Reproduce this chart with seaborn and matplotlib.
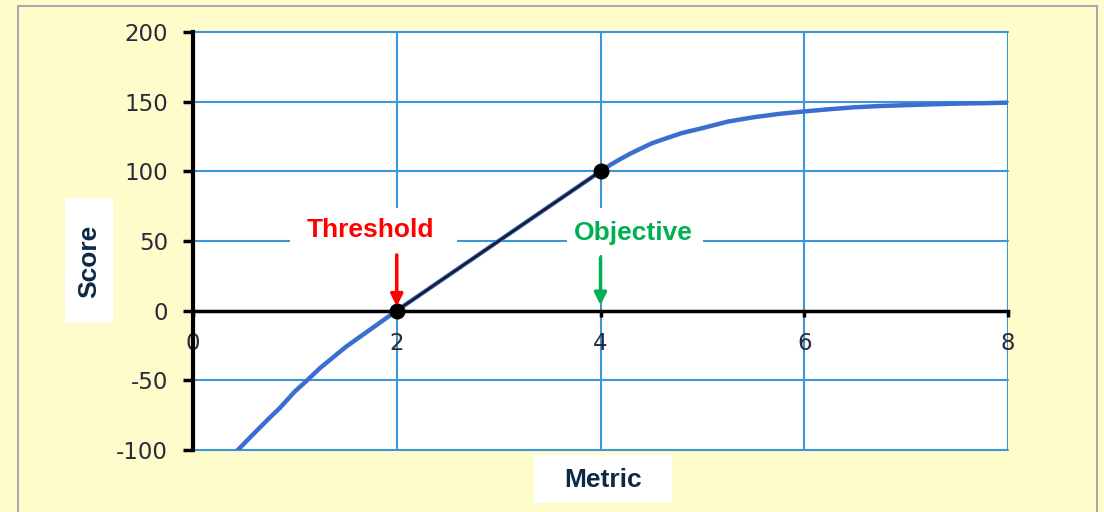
import matplotlib
matplotlib.use("Agg")
import matplotlib.pyplot as plt
from matplotlib.patches import Rectangle
import seaborn as sns
import pandas as pd

# curve
metric = [0.44, 0.6, 0.75, 0.85, 1.0, 1.12, 1.25, 1.5, 1.75, 2.0, 2.5, 3.0, 3.5, 4.0,
          4.1, 4.2, 4.3, 4.4, 4.5, 4.6, 4.8, 5.0, 5.25, 5.5, 5.75, 6.0,
          6.25, 6.5, 6.75, 7.0, 7.25, 7.5, 7.75, 8.0]
score = [-100, -88, -77, -70, -58, -50, -41, -26, -13, 0, 25, 50, 75, 100,
         104.8, 109, 113, 116.5, 120, 122.6, 127.5, 131, 135.7, 138.8, 141.2, 143,
         144.6, 146, 146.9, 147.5, 148.1, 148.6, 148.9, 149.3]

threshold = (2, 0)
objective = (4, 100)

x_ticks = [0, 2, 4, 6, 8]
y_ticks = [-100, -50, 0, 50, 100, 150, 200]

grid_blue = "#3a96d6"
curve_blue = "#3a6fd0"
navy = "#0c2a48"

sns.set_style("white")
plt.rcParams["font.family"] = ["DejaVu Sans"]
plt.rcParams["axes.unicode_minus"] = False

fig = plt.figure(figsize=(11.04, 5.12), dpi=100, facecolor="#fffccc")
# thin grey frame around the whole picture
fig.patches.append(Rectangle((18 / 1104, -0.1), (1097 - 18) / 1104, 1.1 - 6 / 512,
                             transform=fig.transFigure, fill=False,
                             edgecolor="#a8a8a8", linewidth=1.5))

ax = fig.add_axes([193 / 1104, 1 - 450 / 512, (1008 - 193) / 1104, (450 - 32) / 512])
ax.set_facecolor("white")

df = pd.DataFrame({"Metric": metric, "Score": score})
sns.lineplot(data=df, x="Metric", y="Score", ax=ax, color=curve_blue, linewidth=3.2, zorder=3)
# dark segment between threshold and objective
ax.plot([threshold[0], objective[0]], [threshold[1], objective[1]], color="#1a1a2a",
        linewidth=1.8, zorder=4)
ax.scatter([threshold[0], objective[0]], [threshold[1], objective[1]], s=110,
           color="black", zorder=5)

ax.set_xlim(0, 8)
ax.set_ylim(-100, 200)
ax.set_xticks(x_ticks)
ax.set_yticks(y_ticks)
ax.grid(True, color=grid_blue, linewidth=1.5)
for gl in ax.get_xgridlines() + ax.get_ygridlines():
    gl.set_clip_on(False)

ax.spines["bottom"].set_position(("data", 0))
ax.spines["bottom"].set_linewidth(2.5)
ax.spines["bottom"].set_color("black")
ax.spines["left"].set_linewidth(3)
ax.spines["left"].set_color("black")
ax.spines["top"].set_visible(False)
ax.spines["right"].set_visible(False)
ax.spines["left"].set_zorder(6)
ax.spines["bottom"].set_zorder(2.5)

ax.tick_params(axis="y", direction="out", length=7, width=2.5, color="black",
               pad=11, labelsize=16.5, labelcolor="#2a2a3a", left=True)
ax.tick_params(axis="x", direction="out", length=4, width=2.5, color="black",
               pad=11, labelsize=16.5, labelcolor="#2a2a3a", bottom=True)
ax.set_xlabel("")
ax.set_ylabel("")

# annotations with white boxes over the grid
ax.add_patch(Rectangle((0.95, 40), 1.64, 34, facecolor="white", edgecolor="none", zorder=2.6))
ax.add_patch(Rectangle((3.67, 40), 1.34, 34, facecolor="white", edgecolor="none", zorder=2.6))
ax.text(1.74, 58, "Threshold", color="#ff0000", fontsize=19, fontweight="bold",
        family="Liberation Sans", ha="center", va="center", zorder=7)
ax.text(4.32, 56, "Objective", color="#00b050", fontsize=19, fontweight="bold",
        family="Liberation Sans", ha="center", va="center", zorder=7)
ax.annotate("", xy=(threshold[0], 1), xytext=(threshold[0], 42),
            arrowprops=dict(arrowstyle="-|>", color="#ff0000", lw=2.5,
                            mutation_scale=18), zorder=7)
ax.annotate("", xy=(objective[0], 2), xytext=(objective[0], 40),
            arrowprops=dict(arrowstyle="-|>", color="#00b050", lw=2.5,
                            mutation_scale=18), zorder=7)

# axis titles in white boxes
fig.patches.append(Rectangle((65 / 1104, 1 - 323 / 512), 48 / 1104, 125 / 512,
                             transform=fig.transFigure, facecolor="white", edgecolor="none"))
fig.text(89 / 1104, 1 - 261 / 512, "Score", rotation=90, color=navy, fontsize=19,
         fontweight="bold", family="Liberation Sans", ha="center", va="center")
fig.patches.append(Rectangle((534 / 1104, 1 - 503 / 512), 138 / 1104, 48 / 512,
                             transform=fig.transFigure, facecolor="white", edgecolor="none"))
fig.text(603 / 1104, 1 - 480 / 512, "Metric", color=navy, fontsize=19,
         fontweight="bold", family="Liberation Sans", ha="center", va="center")

fig.savefig("out.png", dpi=100, facecolor=fig.get_facecolor())
